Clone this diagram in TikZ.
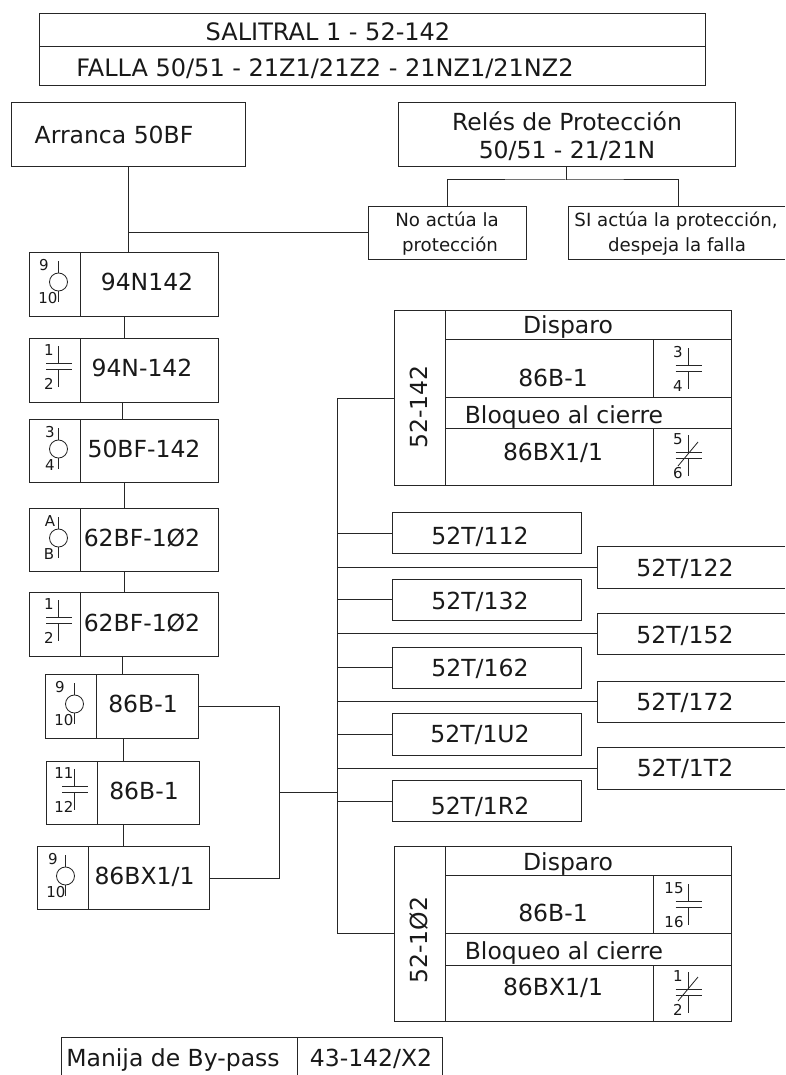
\documentclass[tikz,border=0pt]{standalone}
\usepackage{fontspec}
\setmainfont{DejaVu Sans}
\newcounter{lblc}
\tikzset{
  ln/.style={line width=1pt,draw=black!85},
  sym/.style={line width=.85pt,draw=black!85},
  boxbase/.style={inner sep=0pt,outer sep=0pt,anchor=north west,rectangle},
  lbl/.style={inner sep=0pt,outer sep=0pt,text depth=0pt,anchor=center,text=black!90},
  ftitle/.style={font=\fontsize{24}{28}\selectfont,text height=17.5pt},
  fbig/.style={font=\fontsize{23.5}{27}\selectfont,text height=17.1pt},
  fmid/.style={font=\fontsize{18.2}{21}\selectfont,text height=13.3pt},
  fsmall/.style={font=\fontsize{15}{18}\selectfont,text height=10.9pt},
}
% \cell{name}{x1}{y1}{x2}{y2}
\newcommand{\cell}[5]{%
  \pgfmathsetmacro{\cw}{#4-#2}\pgfmathsetmacro{\ch}{#5-#3}%
  \node[boxbase,ln,minimum width=\cw pt,minimum height=\ch pt] (#1) at (#2,#3) {};}
% frame with its right side open
\newcommand{\openR}[5]{%
  \pgfmathsetmacro{\cw}{#4-#2}\pgfmathsetmacro{\ch}{#5-#3}%
  \node[boxbase,minimum width=\cw pt,minimum height=\ch pt] (#1) at (#2,#3) {};
  \draw[ln] (#1.north east) -- (#1.north west) -- (#1.south west) -- (#1.south east);}
% frame with its bottom side open
\newcommand{\openB}[5]{%
  \pgfmathsetmacro{\cw}{#4-#2}\pgfmathsetmacro{\ch}{#5-#3}%
  \node[boxbase,minimum width=\cw pt,minimum height=\ch pt] (#1) at (#2,#3) {};
  \draw[ln] (#1.south west) -- (#1.north west) -- (#1.north east) -- (#1.south east);}
% \lab{font style}{x}{y}{text}
\newcommand{\lab}[4]{\stepcounter{lblc}\node[lbl,#1] (t\thelblc) at (#2,#3) {#4};}
% coil symbol: \coil{cx}{ytop of box}{lab1}{x1}{lab2}{x2}
\newcommand{\coil}[6]{%
  \draw[sym] (#1,#2+9) -- (#1,#2+21) (#1,#2+39) -- (#1,#2+50);
  \draw[sym] (#1,#2+30) circle[radius=9];
  \lab{fsmall}{#4}{#2+13}{#3}\lab{fsmall}{#6}{#2+46}{#5}}
% contact symbol: \cont{cx}{ytop}{lab1}{lab2}{labx}
\newcommand{\cont}[5]{%
  \draw[sym] (#1,#2) -- (#1,#2+17) (#1-12.5,#2+17) -- (#1+13.5,#2+17)
     (#1-12.5,#2+23) -- (#1+13.5,#2+23) (#1,#2+23) -- (#1,#2+41);
  \lab{fsmall}{#5}{#2+4}{#3}\lab{fsmall}{#5}{#2+38}{#4}}
\newcommand{\diagbar}[2]{\draw[sym] (#1+10,#2+7) -- (#1-10,#2+31);}
% vertical link at a given x
\newcommand{\vlink}[3]{\draw[ln] (#1.south -| #3,0) -- (#2.north -| #3,0);}
\begin{document}
\begin{tikzpicture}[x=1pt,y=-1pt]
\useasboundingbox (0,0) rectangle (785,1075);
% title
\cell{ta}{39}{14}{705}{47}
\cell{tb}{39}{47}{705}{86}
\lab{ftitle}{328}{32}{SALITRAL 1 - 52-142}
\lab{ftitle}{325}{68}{FALLA 50/51 - 21Z1/21Z2 - 21NZ1/21NZ2}
% top boxes
\cell{arr}{11}{103}{245}{167}
\lab{fbig}{114}{135}{Arranca 50BF}
\cell{rel}{398}{103}{735}{167}
\lab{fbig}{567}{122}{Relés de Protección}
\lab{fbig}{567}{150}{50/51 - 21/21N}
\cell{noa}{368}{207}{526}{259}
\lab{fmid}{447}{220}{No actúa la}
\lab{fmid}{450}{245}{protección}
\openR{sia}{568}{207}{785}{259}
\lab{fmid}{676}{220}{SI actúa la protección,}
\lab{fmid}{677}{245}{despeja la falla}
\coordinate (jrel) at (566,180);
\coordinate (jarr) at (128,233);
\draw[ln] (rel.south -| jrel) -- (jrel);
\draw[ln] (noa.north -| 447,0) |- (jrel) -| (sia.north -| 678,0);
\draw[ln] (arr.south -| jarr) -- (jarr);
\draw[ln] (jarr) -- (noa.west |- jarr);
% left chain
\cell{a1}{29}{252}{80}{316}\cell{b1}{80}{252}{218}{316}
\coil{58.5}{252}{9}{44}{10}{48}
\lab{fbig}{147}{282}{94N142}
\cell{a2}{29}{338}{80}{402}\cell{b2}{80}{338}{218}{402}
\cont{58.5}{346}{1}{2}{49}
\lab{fbig}{142}{368}{94N-142}
\cell{a3}{29}{419}{80}{482}\cell{b3}{80}{419}{218}{482}
\coil{58.5}{419}{3}{50}{4}{50}
\lab{fbig}{144}{449}{50BF-142}
\cell{a4}{29}{508}{80}{571}\cell{b4}{80}{508}{218}{571}
\coil{58.5}{508}{A}{50}{B}{49}
\lab{fbig}{142}{538}{62BF-1Ø2}
\cell{a5}{29}{592}{80}{656}\cell{b5}{80}{592}{218}{656}
\cont{58.5}{600}{1}{2}{49}
\lab{fbig}{142}{623}{62BF-1Ø2}
\cell{a6}{45}{674}{96}{738}\cell{b6}{96}{674}{198}{738}
\coil{74.5}{674}{9}{60}{10}{64}
\lab{fbig}{143}{704}{86B-1}
\cell{a7}{46}{761}{97}{824}\cell{b7}{97}{761}{199}{824}
\cont{74.5}{769}{11}{12}{64}
\lab{fbig}{144}{791}{86B-1}
\cell{a8}{37}{846}{88}{909}\cell{b8}{88}{846}{209}{909}
\coil{65.5}{846}{9}{53}{10}{56}
\lab{fbig}{144.5}{876}{86BX1/1}
\draw[ln] (arr.south -| jarr) -- (b1.north -| jarr);
\vlink{b1}{b2}{124}
\vlink{b2}{b3}{122}
\vlink{b3}{b4}{124}
\vlink{b4}{b5}{124}
\vlink{b5}{b6}{122}
\vlink{b6}{b7}{123}
\vlink{b7}{b8}{123}
% collector
\coordinate (c6) at (198,706);
\coordinate (c8) at (209,878);
\coordinate (jc) at (279,792);
\draw[ln] (b6.east |- c6) -| (jc) (b8.east |- c8) -| (jc);
\coordinate (bus) at (337,792);
\draw[ln] (jc) -- (bus);
% 52-142 block
\cell{p1}{394}{310}{445}{485}
\cell{p2}{445}{310}{731}{339}
\cell{p3}{445}{339}{653}{397}\cell{p4}{653}{339}{731}{397}
\cell{p5}{445}{397}{731}{428}
\cell{p6}{445}{428}{653}{485}\cell{p7}{653}{428}{731}{485}
\lab{fbig}{568}{325}{Disparo}
\lab{fbig}{553}{378}{86B-1}
\lab{fbig}{564}{415}{Bloqueo al cierre}
\lab{fbig}{553}{452}{86BX1/1}
\stepcounter{lblc}\node[lbl,fbig,rotate=90] (t\thelblc) at (419,407) {52-142};
\cont{688}{348}{3}{4}{678}
\cont{688}{435}{5}{6}{678}
\diagbar{688}{435}
% 52-1Ø2 block
\cell{q1}{394}{846}{445}{1021}
\cell{q2}{445}{846}{731}{875}
\cell{q3}{445}{875}{653}{933}\cell{q4}{653}{875}{731}{933}
\cell{q5}{445}{933}{731}{965}
\cell{q6}{445}{965}{653}{1021}\cell{q7}{653}{965}{731}{1021}
\lab{fbig}{568}{862}{Disparo}
\lab{fbig}{553}{913}{86B-1}
\lab{fbig}{564}{951}{Bloqueo al cierre}
\lab{fbig}{553}{987}{86BX1/1}
\stepcounter{lblc}\node[lbl,fbig,rotate=90] (t\thelblc) at (419,940) {52-1Ø2};
\cont{688}{884}{15}{16}{674}
\cont{688}{972}{1}{2}{678}
\diagbar{688}{970}
% T boxes
\cell{k1}{392}{512}{581}{553}\lab{fbig}{480}{536}{52T/112}
\openR{k2}{597}{546}{785}{588}\lab{fbig}{685}{568}{52T/122}
\cell{k3}{392}{579}{581}{620}\lab{fbig}{480}{601}{52T/132}
\openR{k4}{597}{613}{785}{654}\lab{fbig}{685}{635}{52T/152}
\cell{k5}{392}{647}{581}{688}\lab{fbig}{480}{668}{52T/162}
\openR{k6}{597}{681}{785}{722}\lab{fbig}{685}{702}{52T/172}
\cell{k7}{392}{713}{581}{755}\lab{fbig}{480}{734}{52T/1U2}
\openR{k8}{597}{747}{785}{789}\lab{fbig}{685}{768}{52T/1T2}
\cell{k9}{392}{780}{581}{821}\lab{fbig}{480}{806}{52T/1R2}
% bus and branches
\draw[ln] (p1.west |- 0,398) -- (bus |- 0,398) -- (bus |- 0,933) -- (q1.west |- 0,933);
\foreach \n/\yy in {k1/533,k2/567,k3/599,k4/633,k5/667,k6/701,k7/734,k8/768,k9/801}
  \draw[ln] (bus |- 0,\yy) -- (\n.west |- 0,\yy);
% by-pass
\openB{m1}{61}{1037}{297}{1075}
\openB{m2}{297}{1037}{442}{1075}
\lab{fbig}{173}{1058}{Manija de By-pass}
\lab{fbig}{371}{1058}{43-142/X2}
\end{tikzpicture}
\end{document}
